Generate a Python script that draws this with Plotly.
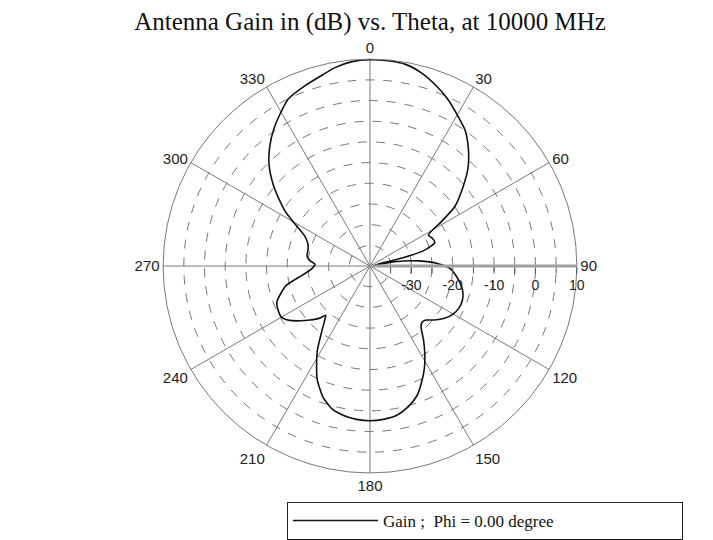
"""Polar antenna gain pattern: gain (dB) vs. theta at 10000 MHz."""

import plotly.graph_objects as go

theta_deg = [
    0, 5, 10, 15, 20, 25, 30, 35, 40, 45, 50, 55, 58, 62, 66, 70, 72, 74, 76,
    78, 80, 84, 88,
    92, 96, 100, 105, 110, 115, 120, 125, 130, 134, 137, 140, 144, 148, 152,
    156, 160, 165, 170, 175, 180, 185, 190, 195, 200, 205, 208, 212, 216, 220,
    222, 224, 228, 232, 236, 240, 245, 249, 253, 257, 262, 266, 270, 272, 275,
    279, 285, 290, 295, 300, 303, 306, 310, 315, 320, 325, 330, 334, 340, 346,
    350, 355, 360,
]
gain_db = [
    9.9, 9.8, 9.5, 8.3, 6.5, 4.5, 2.2, 0.1, -3.0, -6.5, -10.8, -15.0, -19.5,
    -24.0, -23.5, -23.3, -24.5, -26.5, -32.0,
    -39.0, -34.0, -28.0, -23.5,
    -20.5, -19.2, -18.0, -16.8, -16.2, -16.2, -16.8, -18.0, -19.7, -21.2,
    -21.5, -20.8, -18.0, -15.0, -12.0,
    -9.3, -6.7, -4.7, -3.3, -2.8, -2.6, -2.8, -3.3, -4.3, -6.5, -9.8, -12.5,
    -16.0, -20.0, -23.0,
    -24.0, -22.5, -20.5, -18.5, -16.5, -15.3, -15.4, -15.9, -17.5, -19.2,
    -23.3, -25.5, -26.5, -26.7, -25.5,
    -24.6, -24.5, -24.0, -22.5, -18.5, -15.5, -13.0, -9.5, -5.5, -2.3, 0.5,
    3.0, 5.0, 6.3, 7.6,
    8.7, 9.6, 9.9,
]

radial_ticks = [-35, -30, -25, -20, -15, -10, -5, 0, 5, 10]
radial_labels = ["", "-30", "", "-20", "", "-10", "", "0", "", "10"]
angle_ticks = list(range(0, 360, 30))

fig = go.Figure()
fig.add_trace(
    go.Scatterpolar(
        r=gain_db,
        theta=theta_deg,
        mode="lines",
        line=dict(color="#111111", width=1.6, shape="spline", smoothing=0.6),
        name="Gain ;  Phi = 0.00 degree",
    )
)

# page body adds an 8px margin, so the figure is 8px smaller each way
fig.update_layout(
    width=705,
    height=532,
    margin=dict(l=0, r=0, t=0, b=0),
    paper_bgcolor="white",
    title=dict(
        text="Antenna Gain in (dB) vs. Theta, at 10000 MHz",
        x=0.5135,
        xanchor="center",
        y=0.976,
        yanchor="middle",
        font=dict(family="Liberation Serif", size=25, color="#111111"),
    ),
    showlegend=True,
    legend=dict(
        orientation="h",
        x=0.9574,
        xanchor="right",
        y=0.0564,
        yanchor="top",
        bordercolor="#222222",
        borderwidth=1,
        bgcolor="white",
        itemwidth=85,
        entrywidth=294,
        font=dict(family="Liberation Serif", size=17, color="#111111"),
    ),
    polar=dict(
        domain=dict(x=[0.2156, 0.8113], y=[0.1128, 0.9023]),
        bgcolor="white",
        angularaxis=dict(
            rotation=90,
            direction="clockwise",
            tickvals=angle_ticks,
            ticktext=[str(a) for a in angle_ticks],
            showline=True,
            linecolor="#777777",
            linewidth=1,
            gridcolor="#7a7a7a",
            gridwidth=1,
            ticks="",
            tickfont=dict(family="Liberation Sans", size=15, color="#222222"),
        ),
        radialaxis=dict(
            range=[-40, 10],
            tickvals=radial_ticks,
            ticktext=radial_labels,
            angle=0,
            showline=True,
            linecolor="#a0a0a0",
            linewidth=3,
            gridcolor="#777777",
            griddash="dash",
            gridwidth=1,
            ticks="outside",
            ticklen=6,
            tickcolor="#555555",
            tickfont=dict(family="Liberation Sans", size=14, color="#222222"),
        ),
    ),
)

fig.write_html("out.html")
